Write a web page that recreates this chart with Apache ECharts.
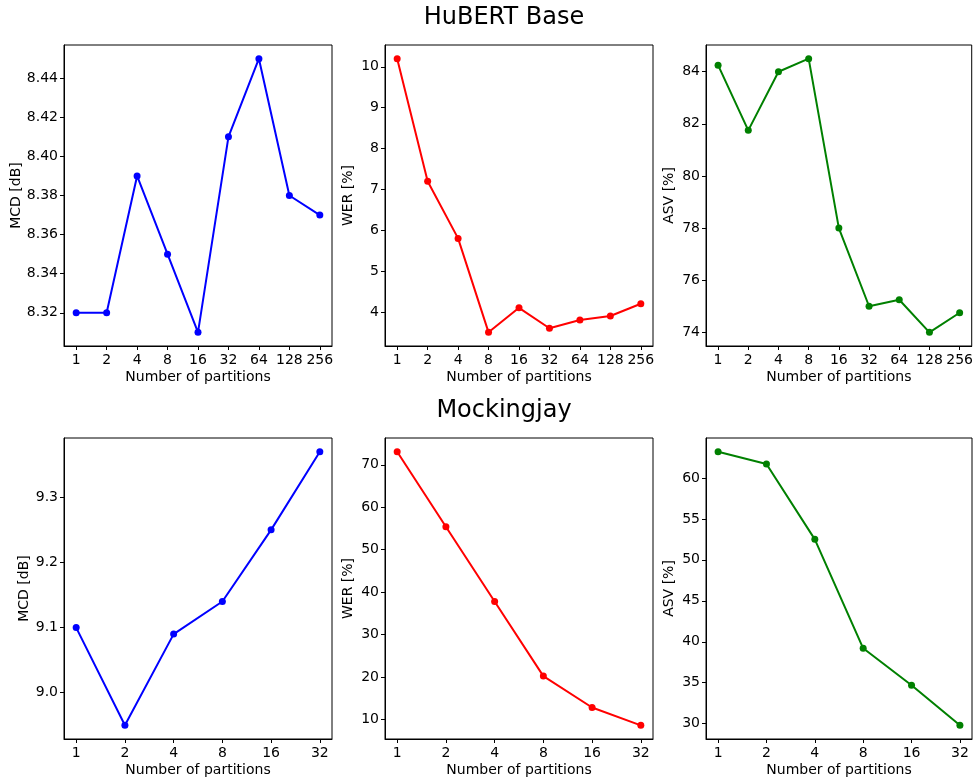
<!DOCTYPE html>
<html>
<head>
<meta charset="utf-8">
<script src="https://cdn.jsdelivr.net/npm/echarts@6/dist/echarts.min.js"></script>
<style>
  html, body { margin: 0; padding: 0; background: #fff; }
  #chart { width: 976px; height: 782px; }
</style>
</head>
<body>
<div id="chart"></div>
<script>
// ---- Data ----
const hubertCategories = ['1', '2', '4', '8', '16', '32', '64', '128', '256'];
const mockingjayCategories = ['1', '2', '4', '8', '16', '32'];

const hubertMCD = [8.32, 8.32, 8.39, 8.35, 8.31, 8.41, 8.45, 8.38, 8.37];
const hubertWER = [10.2, 7.2, 5.8, 3.5, 4.1, 3.6, 3.8, 3.9, 4.2];
const hubertASV = [84.25, 81.75, 84.0, 84.5, 78.0, 75.0, 75.25, 74.0, 74.75];

const mockMCD = [9.10, 8.95, 9.09, 9.14, 9.25, 9.37];
const mockWER = [73.1, 55.4, 37.8, 20.2, 12.8, 8.6];
const mockASV = [63.2, 61.7, 52.5, 39.2, 34.7, 29.8];

// y tick labels
const hubertMCDTicks = [8.32, 8.34, 8.36, 8.38, 8.40, 8.42, 8.44];
const hubertWERTicks = [4, 5, 6, 7, 8, 9, 10];
const hubertASVTicks = [74, 76, 78, 80, 82, 84];
const mockMCDTicks = [9.0, 9.1, 9.2, 9.3];
const mockWERTicks = [10, 20, 30, 40, 50, 60, 70];
const mockASVTicks = [30, 35, 40, 45, 50, 55, 60];

const titles = ['HuBERT Base', 'Mockingjay'];
const xName = 'Number of partitions';

// ---- Layout ----
const FONT = 'DejaVu Sans';
const rowsTop = [45, 438];
const rowH = 301;
const colLeft = [64, 385, 706];
const colW = [268, 268, 266];

const panels = [
  { row: 0, col: 0, cats: hubertCategories, vals: hubertMCD, ticks: hubertMCDTicks, dec: 2, name: 'MCD [dB]', color: '#0000ff', gap: 41 },
  { row: 0, col: 1, cats: hubertCategories, vals: hubertWER, ticks: hubertWERTicks, dec: 0, name: 'WER [%]', color: '#ff0000', gap: 30 },
  { row: 0, col: 2, cats: hubertCategories, vals: hubertASV, ticks: hubertASVTicks, dec: 0, name: 'ASV [%]', color: '#008000', gap: 30 },
  { row: 1, col: 0, cats: mockingjayCategories, vals: mockMCD, ticks: mockMCDTicks, dec: 1, name: 'MCD [dB]', color: '#0000ff', gap: 33 },
  { row: 1, col: 1, cats: mockingjayCategories, vals: mockWER, ticks: mockWERTicks, dec: 0, name: 'WER [%]', color: '#ff0000', gap: 30 },
  { row: 1, col: 2, cats: mockingjayCategories, vals: mockASV, ticks: mockASVTicks, dec: 0, name: 'ASV [%]', color: '#008000', gap: 30 }
];

const grid = [], xAxis = [], yAxis = [], series = [];
panels.forEach((p, i) => {
  grid.push({
    left: colLeft[p.col], top: rowsTop[p.row], width: colW[p.col], height: rowH,
    show: true, borderColor: '#000', borderWidth: 1, backgroundColor: 'transparent',
    containLabel: false
  });
  const n = p.cats.length;
  const idx = p.cats.map((c, k) => k);
  const xm = (n - 1) * 0.05;
  xAxis.push({
    type: 'value', gridIndex: i, min: -xm, max: n - 1 + xm, position: 'bottom',
    name: xName, nameLocation: 'middle', nameGap: 24,
    nameTextStyle: { fontFamily: FONT, fontSize: 14, color: '#000' },
    axisLine: { show: true, onZero: false, lineStyle: { color: '#000', width: 1 } },
    axisTick: { show: true, inside: false, length: 4, lineStyle: { color: '#000', width: 1 }, customValues: idx },
    axisLabel: { show: true, margin: 7, fontFamily: FONT, fontSize: 14, color: '#000', customValues: idx,
      formatter: v => { const k = Math.round(v); return Math.abs(v - k) < 1e-6 && p.cats[k] !== undefined ? p.cats[k] : ''; } },
    splitLine: { show: false }
  });
  const lo = Math.min(...p.vals), hi = Math.max(...p.vals);
  const m = (hi - lo) * 0.05;
  yAxis.push({
    type: 'value', gridIndex: i, min: lo - m, max: hi + m, position: 'left',
    name: p.name, nameLocation: 'middle', nameGap: p.gap,
    nameTextStyle: { fontFamily: FONT, fontSize: 14, color: '#000' },
    axisLine: { show: true, onZero: false, lineStyle: { color: '#000', width: 1 } },
    axisTick: { show: true, inside: false, length: 4, lineStyle: { color: '#000', width: 1 }, customValues: p.ticks },
    axisLabel: { show: true, margin: 6, fontFamily: FONT, fontSize: 14, color: '#000', customValues: p.ticks,
      formatter: v => v.toFixed(p.dec) },
    splitLine: { show: false }
  });
  series.push({
    type: 'line', xAxisIndex: i, yAxisIndex: i,
    data: p.vals.map((v, k) => [k, v]),
    symbol: 'circle', symbolSize: 7, showSymbol: true,
    lineStyle: { color: p.color, width: 2 },
    itemStyle: { color: p.color, borderWidth: 0 },
    emphasis: { disabled: true },
    animation: false
  });
});

const chart = echarts.init(document.getElementById('chart'), null, { renderer: 'canvas' });
chart.setOption({
  backgroundColor: '#fff',
  animation: false,
  textStyle: { fontFamily: FONT },
  grid, xAxis, yAxis, series,
  graphic: [
    { type: 'text', x: 504, y: 17.5, style: { text: titles[0], font: '24px "DejaVu Sans"', fill: '#000', align: 'center', verticalAlign: 'middle', textAlign: 'center', textVerticalAlign: 'middle' } },
    { type: 'text', x: 504, y: 410.5, style: { text: titles[1], font: '24px "DejaVu Sans"', fill: '#000', align: 'center', verticalAlign: 'middle', textAlign: 'center', textVerticalAlign: 'middle' } }
  ]
});
</script>
</body>
</html>
